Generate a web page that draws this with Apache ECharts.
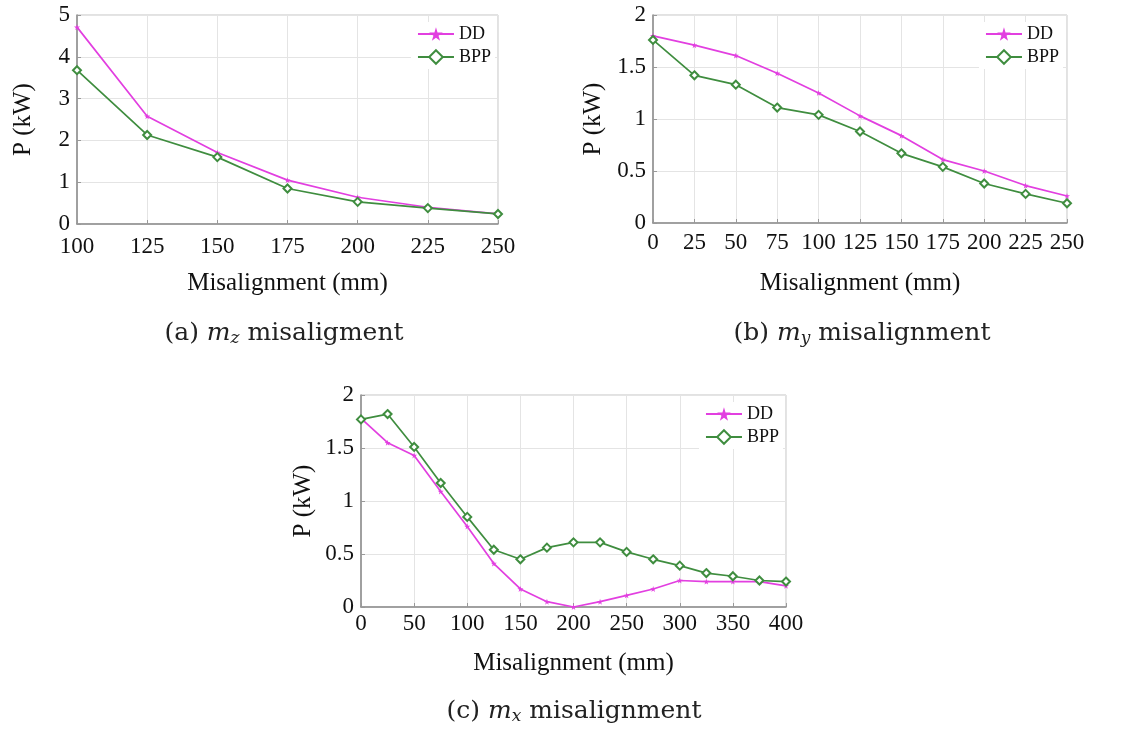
<!DOCTYPE html>
<html>
<head>
<meta charset="utf-8">
<script src="https://cdn.jsdelivr.net/npm/echarts@6/dist/echarts.min.js"></script>
<style>html,body{margin:0;padding:0;background:#fff;}#c{width:1147px;height:733px;}</style>
</head>
<body>
<div id="c"></div>
<script>
// ---- data ----
const xA = [100, 125, 150, 175, 200, 225, 250];
const ddA = [4.71, 2.58, 1.71, 1.05, 0.64, 0.40, 0.24];
const bppA = [3.68, 2.13, 1.60, 0.85, 0.53, 0.38, 0.24];

const xB = [0, 25, 50, 75, 100, 125, 150, 175, 200, 225, 250];
const ddB = [1.80, 1.71, 1.61, 1.44, 1.25, 1.03, 0.84, 0.61, 0.50, 0.36, 0.26];
const bppB = [1.76, 1.42, 1.33, 1.11, 1.04, 0.88, 0.67, 0.54, 0.38, 0.28, 0.19];

const xC = [0, 25, 50, 75, 100, 125, 150, 175, 200, 225, 250, 275, 300, 325, 350, 375, 400];
const ddC = [1.78, 1.55, 1.43, 1.09, 0.76, 0.41, 0.17, 0.05, 0.00, 0.05, 0.11, 0.17, 0.25, 0.24, 0.24, 0.24, 0.20];
const bppC = [1.77, 1.82, 1.51, 1.17, 0.85, 0.54, 0.45, 0.56, 0.61, 0.61, 0.52, 0.45, 0.39, 0.32, 0.29, 0.25, 0.24];

const seriesNames = ['DD', 'BPP'];
const xName = 'Misalignment (mm)';
const yName = 'P (kW)';

// ---- styling ----
const DD_COLOR = '#e23fe0';
const BPP_COLOR = '#3f8d3f';
const STAR = 'path://M50,0 L61,35 L98,35 L68,57 L79,91 L50,70 L21,91 L32,57 L2,35 L39,35 Z';
const AX_FONT = 'Liberation Serif';
const CAP_FONT = 'DejaVu Serif';

const pairs = (xs, ys) => xs.map((x, i) => [x, ys[i]]);

const grids = [
  {left: 77, top: 15, width: 421, height: 209},
  {left: 653, top: 15, width: 414, height: 208},
  {left: 361, top: 395, width: 425, height: 212}
];
const xCfg = [
  {min: 100, max: 250, interval: 25, margin: 11},
  {min: 0, max: 250, interval: 25, margin: 8},
  {min: 0, max: 400, interval: 50, margin: 5}
];
const yCfg = [
  {min: 0, max: 5, interval: 1},
  {min: 0, max: 2, interval: 0.5},
  {min: 0, max: 2, interval: 0.5}
];
const nameGapX = [47, 48, 44];
const nameGapY = [41, 47, 45];

const xAxes = xCfg.map((c, i) => ({
  type: 'value', gridIndex: i, min: c.min, max: c.max, interval: c.interval,
  name: xName, nameLocation: 'middle', nameGap: nameGapX[i],
  nameTextStyle: {fontFamily: AX_FONT, fontSize: 25, color: '#111'},
  axisLine: {show: true, lineStyle: {color: '#8a8a8a', width: 1.5}},
  axisTick: {show: true, inside: true, length: 4, lineStyle: {color: '#999'}},
  axisLabel: {fontFamily: AX_FONT, fontSize: 23, color: '#111', margin: c.margin},
  splitLine: {show: true, lineStyle: {color: '#e4e4e4', width: 1}}
}));
const yAxes = yCfg.map((c, i) => ({
  type: 'value', gridIndex: i, min: c.min, max: c.max, interval: c.interval,
  name: yName, nameLocation: 'middle', nameGap: nameGapY[i], nameRotate: 90,
  nameTextStyle: {fontFamily: AX_FONT, fontSize: 25, color: '#111'},
  axisLine: {show: true, lineStyle: {color: '#8a8a8a', width: 1.5}},
  axisTick: {show: true, inside: true, length: 4, lineStyle: {color: '#999'}},
  axisLabel: {fontFamily: AX_FONT, fontSize: 23, color: '#111', margin: 7},
  splitLine: {show: true, lineStyle: {color: '#e4e4e4', width: 1}}
}));

const data = [[xA, ddA, bppA], [xB, ddB, bppB], [xC, ddC, bppC]];
const series = [];
data.forEach((d, i) => {
  series.push({
    name: seriesNames[0], type: 'line', xAxisIndex: i, yAxisIndex: i,
    data: pairs(d[0], d[1]), clip: false,
    symbol: STAR, symbolSize: 6,
    lineStyle: {color: DD_COLOR, width: 1.7},
    itemStyle: {color: DD_COLOR}, z: 3
  });
  series.push({
    name: seriesNames[1], type: 'line', xAxisIndex: i, yAxisIndex: i,
    data: pairs(d[0], d[2]), clip: false,
    symbol: 'emptyDiamond', symbolSize: 8,
    lineStyle: {color: BPP_COLOR, width: 1.7},
    itemStyle: {color: BPP_COLOR, borderColor: BPP_COLOR, borderWidth: 1.4}, z: 4
  });
});

const legendPos = [
  {right: 1147 - 495, top: 22},
  {right: 1147 - 1063, top: 22},
  {right: 1147 - 783, top: 402}
];
const legends = legendPos.map(p => ({
  right: p.right, top: p.top, orient: 'vertical',
  data: seriesNames, itemWidth: 36, itemHeight: 17, itemGap: 5,
  padding: [3, 4, 3, 6], backgroundColor: '#fff',
  textStyle: {fontFamily: AX_FONT, fontSize: 18, color: '#111'},
  selectedMode: false
}));

const capRich = {
  n: {fontFamily: CAP_FONT, fontSize: 25, fontWeight: 'normal', color: '#222', lineHeight: 32},
  i: {fontFamily: CAP_FONT, fontSize: 25, fontWeight: 'normal', fontStyle: 'italic', color: '#222', lineHeight: 32},
  s: {fontFamily: CAP_FONT, fontSize: 17, fontWeight: 'normal', fontStyle: 'italic', color: '#222', lineHeight: 17, verticalAlign: 'bottom', padding: [0, 0, 2, 0]}
};
const captions = [
  {text: '{n|(a) }{i|m}{s|z}{n| misaligment}', x: 284, y: 317},
  {text: '{n|(b) }{i|m}{s|y}{n| misalignment}', x: 862, y: 317},
  {text: '{n|(c) }{i|m}{s|x}{n| misalignment}', x: 574, y: 695}
];
const titles = captions.map(c => ({
  text: c.text, left: c.x, top: c.y, textAlign: 'center', padding: 0,
  textStyle: {fontWeight: 'normal', rich: capRich}
}));

const chart = echarts.init(document.getElementById('c'), null, {renderer: 'canvas'});
chart.setOption({
  backgroundColor: '#fff',
  animation: false,
  title: titles,
  grid: grids.map(g => Object.assign({show: true, borderColor: '#c4c4c4', borderWidth: 1}, g)),
  xAxis: xAxes,
  yAxis: yAxes,
  legend: legends,
  series: series
});
</script>
</body>
</html>
